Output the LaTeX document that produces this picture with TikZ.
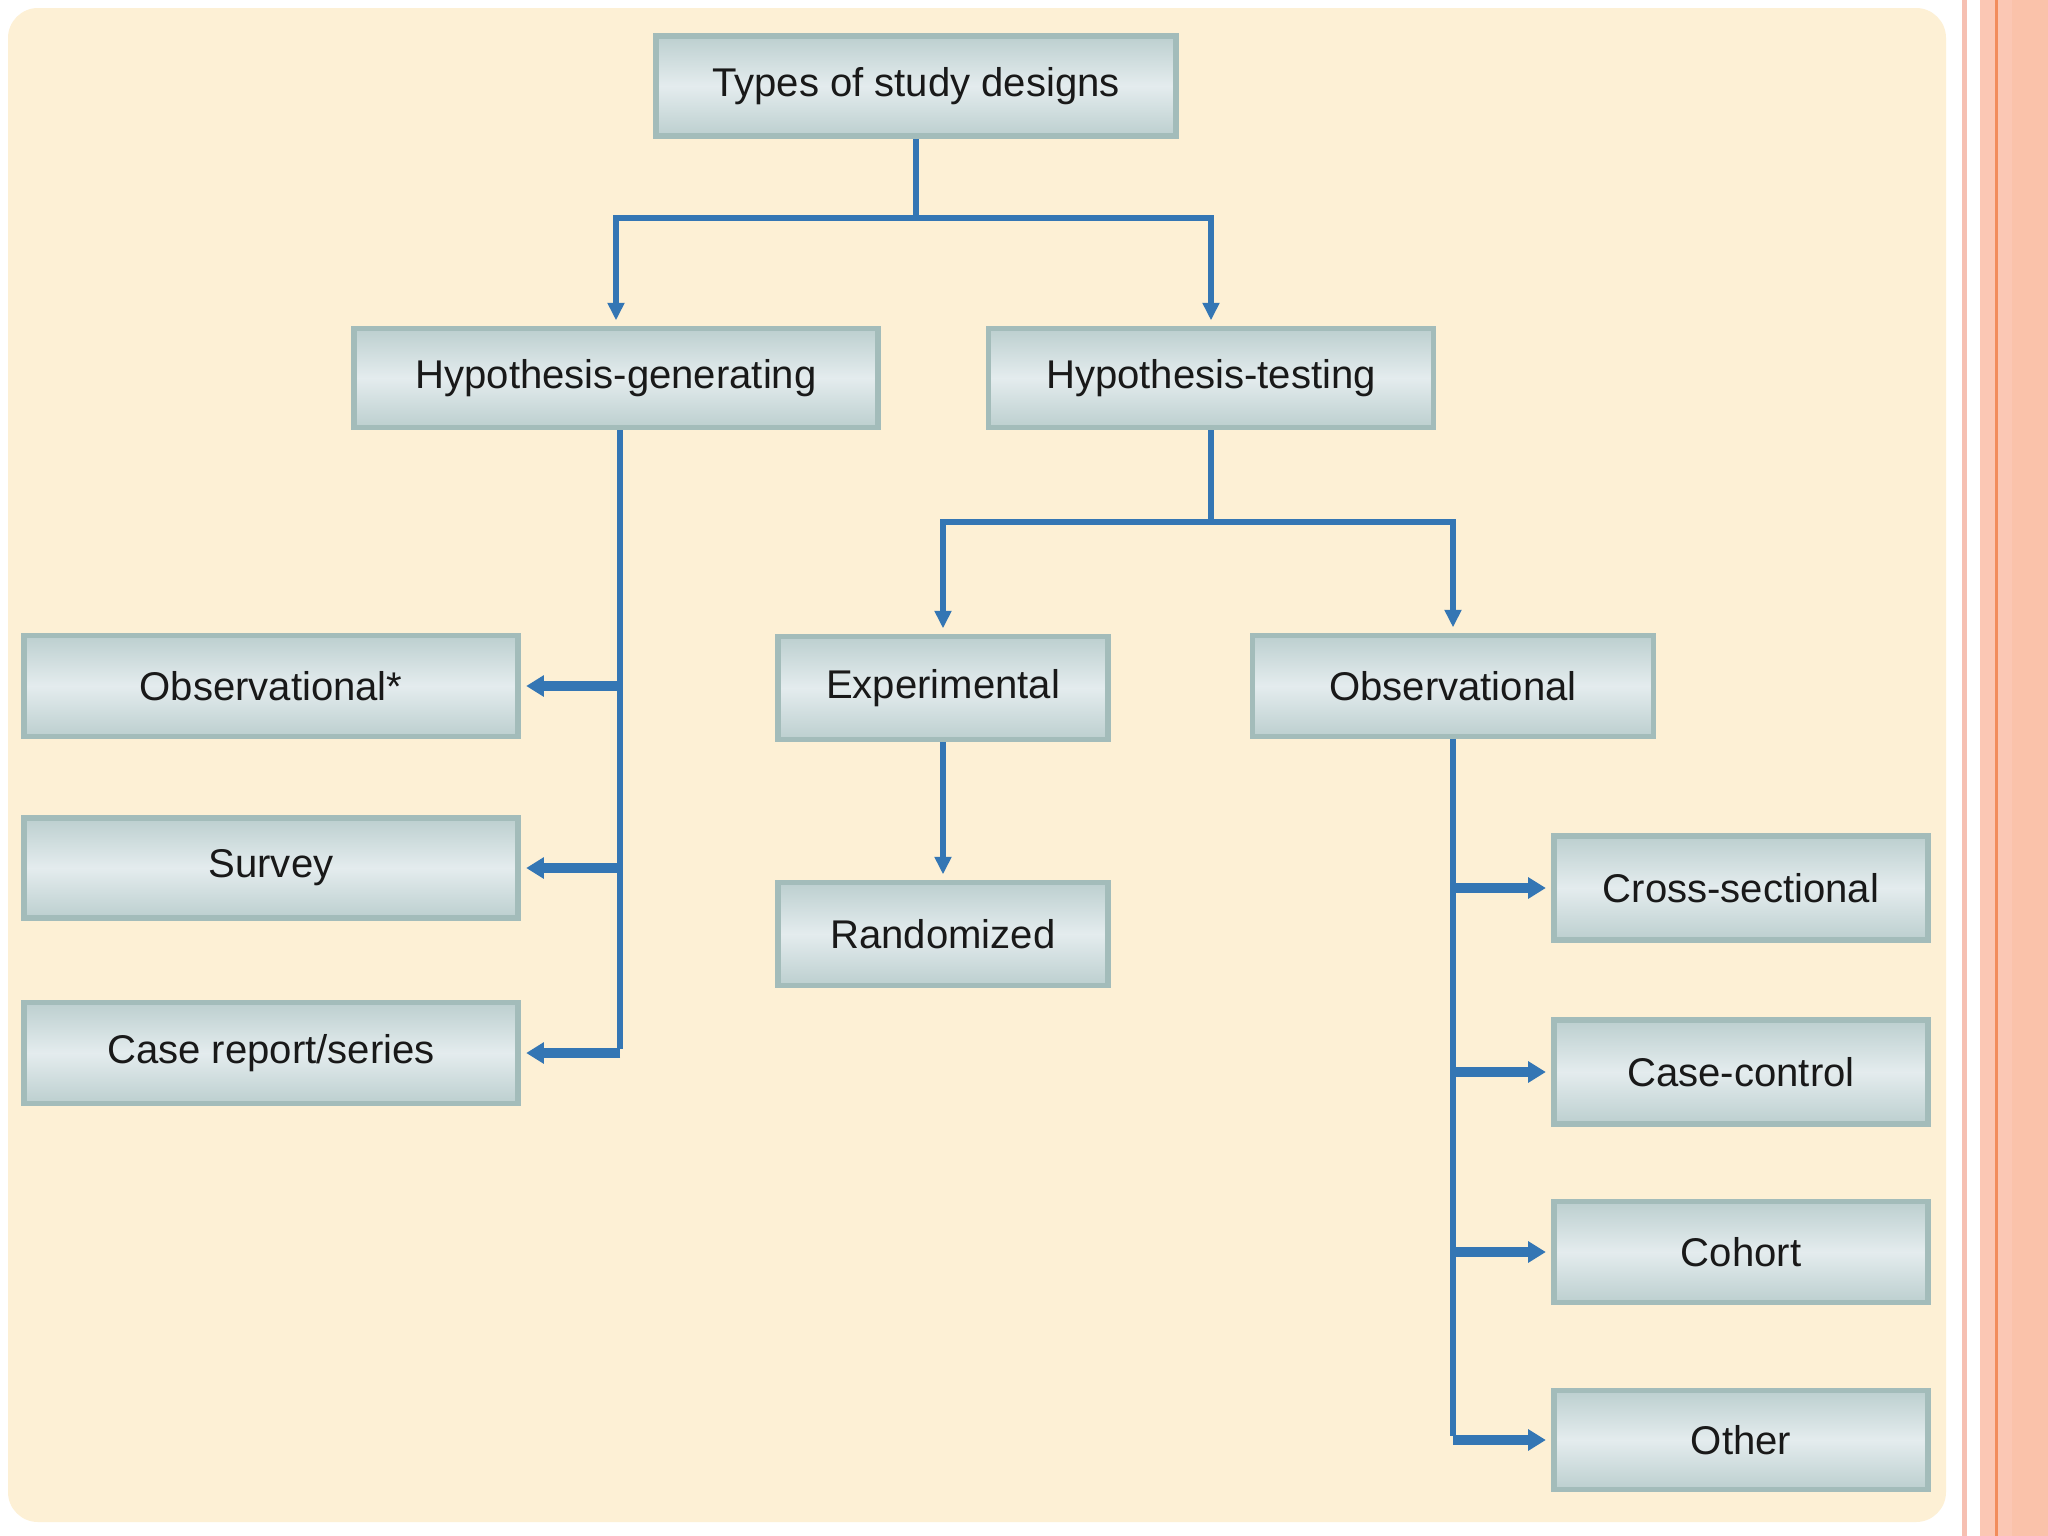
\documentclass[tikz,border=0pt]{standalone}
\usepackage{fontspec}
\setmainfont{Liberation Sans}
\usetikzlibrary{arrows.meta}
\definecolor{cream}{RGB}{253,240,213}
\definecolor{boxedge}{RGB}{163,188,186}
\definecolor{boxmid}{RGB}{228,236,238}
\definecolor{boxtop}{RGB}{188,207,207}
\definecolor{lineblue}{RGB}{52,118,180}
\definecolor{salmon}{RGB}{251,199,180}
\definecolor{salmontwo}{RGB}{250,194,170}
\definecolor{pinkline}{RGB}{246,192,178}
\definecolor{orangeline}{RGB}{242,140,92}
\definecolor{txt}{RGB}{25,25,25}
\begin{document}
\begin{tikzpicture}[x=0.01cm,y=-0.01cm,
  box/.style={draw=boxedge, line width=1.6pt, top color=boxtop, bottom color=boxtop, middle color=boxmid,
    inner sep=0pt, font=\fontsize{11.4}{13}\selectfont, text=txt},
  conn/.style={draw=lineblue, line width=1.9pt},
  arr/.style={conn, -{Triangle[length=5pt,width=4.6pt]}, shorten >=1.5pt},
  sidearr/.style={draw=lineblue, line width=2.9pt, -{Triangle[length=5pt,width=5.8pt]}, shorten >=1.5pt}]
% background
\useasboundingbox (0,0) rectangle (2048,1536);
\fill[white] (0,0) rectangle (2048,1536);
\fill[cream, rounded corners=0.3cm] (8,8) rectangle (1946,1522);
\fill[pinkline] (1962,0) rectangle (1967,1536);
\fill[salmon] (1980,0) rectangle (2048,1536);
\fill[salmontwo] (2012,0) rectangle (2048,1536);
\fill[orangeline] (1995,0) rectangle (1998,1536);
% nodes
\node[box, minimum width=5.2cm, minimum height=1.0cm] (top) at (916,86) {Types of study designs};
\node[box, minimum width=5.24cm, minimum height=0.99cm] (hg) at (616,378) {Hypothesis-generating};
\node[box, minimum width=4.45cm, minimum height=0.99cm] (ht) at (1211,378) {Hypothesis-testing};
\node[box, minimum width=4.94cm, minimum height=1.01cm] (obsA) at (271,686) {Observational*};
\node[box, minimum width=4.94cm, minimum height=1.0cm] (survey) at (271,868) {Survey};
\node[box, minimum width=4.94cm, minimum height=1.01cm] (case) at (271,1053) {Case report/series};
\node[box, minimum width=3.3cm, minimum height=1.03cm] (exp) at (943,688) {Experimental};
\node[box, minimum width=4.01cm, minimum height=1.01cm] (obs) at (1453,686) {Observational};
\node[box, minimum width=3.3cm, minimum height=1.03cm] (rand) at (943,934) {Randomized};
\node[box, minimum width=3.74cm, minimum height=1.04cm] (cross) at (1741,888) {Cross-sectional};
\node[box, minimum width=3.74cm, minimum height=1.04cm] (cc) at (1741,1072) {Case-control};
\node[box, minimum width=3.74cm, minimum height=1.01cm] (cohort) at (1741,1252) {Cohort};
\node[box, minimum width=3.74cm, minimum height=0.99cm] (other) at (1741,1440) {Other};
% connectors: top level
\coordinate (ya) at (0,218);
\coordinate (yb) at (0,522);
\coordinate (j1) at (top.south |- ya);
\draw[conn] (top.south) -- (j1);
\draw[arr] (j1) -| (hg.north);
\draw[arr] (j1) -| (ht.north);
% hypothesis-generating branch
\coordinate (hgs) at ([xshift=0.04cm]hg.south);
\draw[conn] (hgs) -- ([yshift=0.04cm]case.east -| hgs);
\draw[sidearr] (obsA.east -| hgs) -- (obsA.east);
\draw[sidearr] (survey.east -| hgs) -- (survey.east);
\draw[sidearr] (case.east -| hgs) -- (case.east);
% hypothesis-testing branch
\coordinate (j2) at (ht.south |- yb);
\draw[conn] (ht.south) -- (j2);
\draw[arr] (j2) -| (exp.north);
\draw[arr] (j2) -| (obs.north);
\draw[arr] (exp.south) -- (rand.north);
% observational branch
\draw[conn] (obs.south) -- ([yshift=0.04cm]other.west -| obs.south);
\draw[sidearr] (cross.west -| obs.south) -- (cross.west);
\draw[sidearr] (cc.west -| obs.south) -- (cc.west);
\draw[sidearr] (cohort.west -| obs.south) -- (cohort.west);
\draw[sidearr] (other.west -| obs.south) -- (other.west);
\end{tikzpicture}
\end{document}
